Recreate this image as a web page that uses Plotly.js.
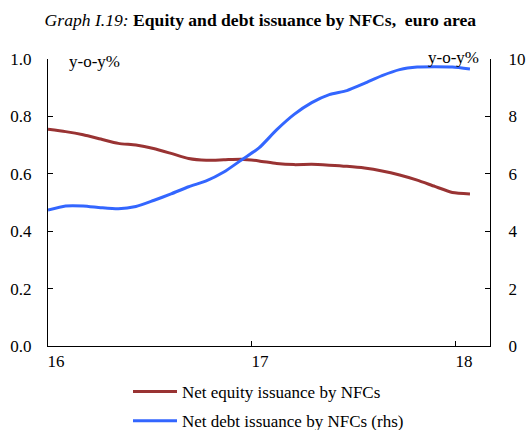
<!DOCTYPE html>
<html>
<head>
<meta charset="utf-8">
<script src="https://cdn.plot.ly/plotly-3.0.1.min.js"></script>
<style>
  html, body { margin: 0; padding: 0; background: #ffffff; }
  #chart { width: 527px; height: 430px; }
</style>
</head>
<body>
<div id="chart"></div>
<script>
// Monthly observations, Jan 2016 - Jan 2018
const months = ['2016-01','2016-02','2016-03','2016-04','2016-05','2016-06','2016-07','2016-08','2016-09','2016-10','2016-11','2016-12',
                '2017-01','2017-02','2017-03','2017-04','2017-05','2017-06','2017-07','2017-08','2017-09','2017-10','2017-11','2017-12',
                '2018-01'];
// Net equity issuance by NFCs (y-o-y %, lhs)
const equity = [0.755, 0.747, 0.736, 0.721, 0.706, 0.700, 0.688, 0.671, 0.653, 0.647, 0.649, 0.651,
                0.645, 0.636, 0.632, 0.633, 0.630, 0.626, 0.620, 0.610, 0.596, 0.578, 0.556, 0.535,
                0.530];
// Net debt issuance by NFCs (y-o-y %, rhs)
const debt = [4.74, 4.88, 4.88, 4.82, 4.78, 4.86, 5.07, 5.30, 5.55, 5.75, 6.06, 6.48,
              6.90, 7.53, 8.07, 8.48, 8.76, 8.90, 9.15, 9.42, 9.63, 9.72, 9.73, 9.72,
              9.65];
const yearLabels = ['16', '17', '18'];
const seriesNames = ['Net equity issuance by NFCs', 'Net debt issuance by NFCs (rhs)'];

const xIdx = months.map((m, i) => i);
const FONT = 'Liberation Serif, Times New Roman, serif';

const traces = [
  {
    x: xIdx, y: equity, type: 'scatter', mode: 'lines', name: seriesNames[0],
    line: { color: '#993333', width: 3, shape: 'spline', smoothing: 0.6 },
    legendgroup: 'a', yaxis: 'y'
  },
  {
    x: xIdx, y: debt, type: 'scatter', mode: 'lines', name: seriesNames[1],
    line: { color: '#3366ff', width: 3, shape: 'spline', smoothing: 0.6 },
    legendgroup: 'b', yaxis: 'y2'
  }
];

const layout = {
  width: 527, height: 430,
  margin: { l: 48, r: 37, t: 59, b: 84, pad: 0, autoexpand: false },
  paper_bgcolor: '#ffffff', plot_bgcolor: '#ffffff',
  font: { family: FONT, size: 17, color: '#000000' },
  showlegend: true,
  title: {
    text: '<i>Graph I.19:</i> <b>Equity and debt issuance by NFCs,\u00a0 euro area</b>',
    font: { family: FONT, size: 17.6, color: '#000000' },
    x: 0.494, xanchor: 'center', xref: 'container',
    y: 1 - 20 / 430, yanchor: 'middle', yref: 'container'
  },
  xaxis: {
    range: [0, 25.14],
    tickmode: 'array',
    tickvals: [0, 11.6, 23.2],
    ticktext: yearLabels,
    ticks: 'inside', ticklen: 5, tickwidth: 1, tickcolor: '#000000',
    ticklabelshift: 8,
    showline: true, linecolor: '#000000', linewidth: 1,
    showgrid: false, zeroline: false,
    tickfont: { family: FONT, size: 17, color: '#000000' },
    fixedrange: true, automargin: false
  },
  yaxis: {
    range: [0, 1], dtick: 0.2, tick0: 0, tickformat: '.1f',
    ticks: 'inside', ticklen: 5, tickwidth: 1, tickcolor: '#000000',
    ticklabelstandoff: 12,
    showline: true, linecolor: '#000000', linewidth: 1,
    showgrid: false, zeroline: false,
    tickfont: { family: FONT, size: 17, color: '#000000' },
    fixedrange: true, automargin: false
  },
  yaxis2: {
    range: [0, 10], dtick: 2, tick0: 0,
    overlaying: 'y', side: 'right',
    ticks: 'inside', ticklen: 5, tickwidth: 1, tickcolor: '#000000',
    ticklabelstandoff: 14,
    showline: true, linecolor: '#000000', linewidth: 1,
    showgrid: false, zeroline: false,
    tickfont: { family: FONT, size: 17, color: '#000000' },
    fixedrange: true, automargin: false
  },
  legend: {
    orientation: 'v',
    xref: 'container', yref: 'container',
    x: 128 / 527, xanchor: 'left',
    y: 1 - 374 / 430, yanchor: 'top',
    font: { family: FONT, size: 17, color: '#000000' },
    bgcolor: 'rgba(0,0,0,0)', borderwidth: 0,
    tracegroupgap: 4,
    itemwidth: 44
  },
  annotations: [
    {
      text: 'y-o-y%', xref: 'paper', yref: 'paper',
      x: (67 - 48) / 442, xanchor: 'left',
      y: (346 - 61.5) / 287, yanchor: 'middle',
      showarrow: false, font: { family: FONT, size: 17, color: '#000000' }
    },
    {
      text: 'y-o-y%', xref: 'paper', yref: 'paper',
      x: (481 - 48) / 442, xanchor: 'right',
      y: (346 - 57) / 287, yanchor: 'middle',
      showarrow: false, font: { family: FONT, size: 17, color: '#000000' }
    }
  ]
};

Plotly.newPlot('chart', traces, layout, { staticPlot: true, displayModeBar: false });
</script>
</body>
</html>
